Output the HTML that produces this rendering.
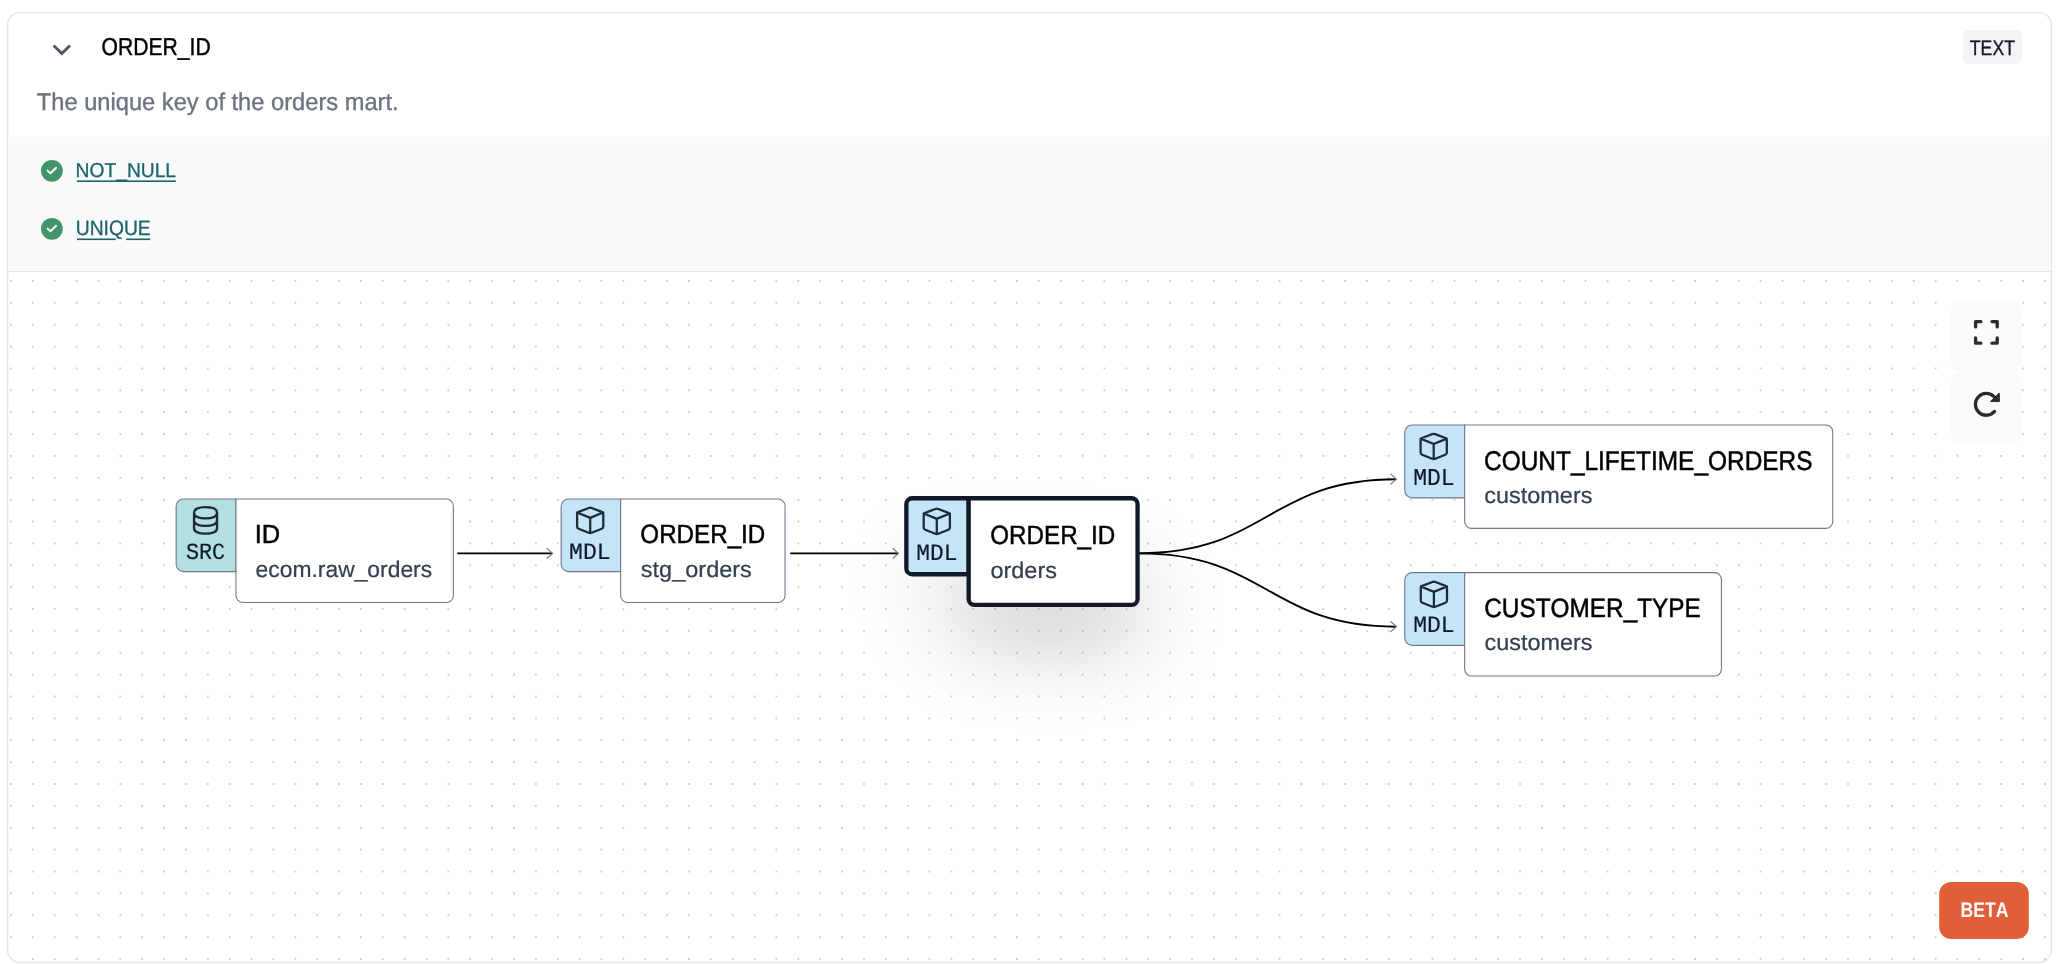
<!DOCTYPE html>
<html><head><meta charset="utf-8"><title>ORDER_ID lineage</title>
<style>html,body{margin:0;padding:0;background:#fff;width:2058px;height:964px;overflow:hidden;position:relative}
text{font-kerning:none;text-rendering:geometricPrecision}</style></head>
<body>
<svg width="2058" height="964" viewBox="0 0 2058 964" style="position:absolute;left:0;top:0;display:block;will-change:transform"><defs>
<pattern id="dots" patternUnits="userSpaceOnUse" x="10" y="280" width="21.87" height="21.87"><rect x="0" y="0" width="2" height="2" fill="#d3d3d3"/></pattern>
<clipPath id="cardclip"><rect x="8" y="13" width="2043" height="949" rx="12"/></clipPath>
<filter id="shadow" filterUnits="userSpaceOnUse" x="700" y="350" width="650" height="550"><feGaussianBlur stdDeviation="46"/></filter>
<marker id="arr" viewBox="0 0 12 12" refX="11" refY="6" markerWidth="12" markerHeight="12" markerUnits="userSpaceOnUse" orient="auto"><path d="M5.6 1 L11 6 L5.6 11" fill="none" stroke="#6b7280" stroke-width="1.15" stroke-linecap="round" stroke-linejoin="round"/></marker>
</defs>
<rect x="7.6" y="12.6" width="2043.8" height="949.8" rx="12.5" fill="#fff" stroke="#e3e5ea" stroke-width="1.4"/>
<g clip-path="url(#cardclip)">
<rect x="8" y="137" width="2043" height="134" fill="#f9fafb"/>
<rect x="8" y="272" width="2043" height="690" fill="url(#dots)"/>
<rect x="8" y="271" width="2043" height="1" fill="#e5e7eb"/>
</g>
<path d="M53.6 45.6 L61.8 53.6 L70.0 45.6" fill="none" stroke="#4b5563" stroke-width="2.8" stroke-linecap="butt" stroke-linejoin="miter"/>
<text x="101.6" y="55" font-family='"Liberation Sans", sans-serif' font-size="24.35" font-weight="400" fill="#000" textLength="109.11" lengthAdjust="spacingAndGlyphs" stroke="#000" stroke-width="0.45">ORDER_ID</text>
<text x="36.77" y="109.8" font-family='"Liberation Sans", sans-serif' font-size="24.2" font-weight="400" fill="#6b7280" textLength="361.89" lengthAdjust="spacingAndGlyphs" stroke="#6b7280" stroke-width="0.35">The unique key of the orders mart.</text>
<rect x="1963" y="30" width="59" height="34" rx="5" fill="#f3f4f6" stroke="none" stroke-width="0"/>
<text x="1969.8" y="55.2" font-family='"Liberation Sans", sans-serif' font-size="21.22" font-weight="400" fill="#111827" textLength="45.2" lengthAdjust="spacingAndGlyphs" stroke="#111827" stroke-width="0.35">TEXT</text>
<circle cx="51.9" cy="170.8" r="10.9" fill="#44946b"/>
<path d="M47.6 170.6 L50.5 173.3 L56.1 167.8" fill="none" stroke="#fff" stroke-width="1.9" stroke-linecap="round" stroke-linejoin="round"/>
<text x="75.62" y="176.8" font-family='"Liberation Sans", sans-serif' font-size="20.05" font-weight="400" fill="#1d6468" textLength="100.42" lengthAdjust="spacingAndGlyphs" stroke="#1d6468" stroke-width="0.3">NOT_NULL</text>
<rect x="77" y="180.4" width="98.9" height="1.6" fill="#1d6468"/>
<circle cx="51.9" cy="228.8" r="10.9" fill="#44946b"/>
<path d="M47.6 228.6 L50.5 231.3 L56.1 225.8" fill="none" stroke="#fff" stroke-width="1.9" stroke-linecap="round" stroke-linejoin="round"/>
<text x="75.71" y="234.9" font-family='"Liberation Sans", sans-serif' font-size="20.77" font-weight="400" fill="#1d6468" textLength="75.02" lengthAdjust="spacingAndGlyphs" stroke="#1d6468" stroke-width="0.3">UNIQUE</text>
<rect x="77" y="238.5" width="38.7" height="1.6" fill="#1d6468"/>
<rect x="126.1" y="238.5" width="24.1" height="1.6" fill="#1d6468"/>
<rect x="1950.4" y="300.2" width="71.3" height="71.9" rx="9" fill="#f9fafb" stroke="none" stroke-width="0" fill-opacity="0.88"/>
<rect x="1950.4" y="372.1" width="71.3" height="71.8" rx="9" fill="#f9fafb" stroke="none" stroke-width="0" fill-opacity="0.88"/>
<g transform="translate(1966 312)" fill="none" stroke="#2b2b2b" stroke-width="3.3" stroke-linecap="round" stroke-linejoin="round"><path d="M14.9 9.6 H9.6 V14.9"/><path d="M26 9.6 H31.2 V14.9"/><path d="M9.6 26 V31.2 H14.9"/><path d="M31.2 26 V31.2 H26"/></g>
<g transform="translate(1966 384)"><path d="M28.6 27.4 A10.9 10.9 0 1 1 28.0 12.6" fill="none" stroke="#2b2b2b" stroke-width="3.3" stroke-linecap="round"/><path d="M24.5 17.4 L33.2 9.1 L33.4 17.6 Z" fill="#2b2b2b" stroke="#2b2b2b" stroke-width="1" stroke-linejoin="round"/></g>
<rect x="1939.2" y="882.1" width="89.6" height="56.8" rx="12" fill="#e05e38" stroke="none" stroke-width="0"/>
<text x="1960.52" y="917.2" font-family='"Liberation Sans", sans-serif' font-size="21.08" font-weight="700" fill="#fff" textLength="47.94" lengthAdjust="spacingAndGlyphs">BETA</text>
<g fill="none" stroke="#000" stroke-width="1.85">
<path d="M457.3 553.3 H552.4" marker-end="url(#arr)"/>
<path d="M790.2 553.3 H898.3" marker-end="url(#arr)"/>
<path d="M1138.7 553.3 C1267.5 553.3 1267.5 479.2 1396.3 479.2" marker-end="url(#arr)"/>
<path d="M1138.7 553.3 C1267.5 553.3 1267.5 626.7 1396.3 626.7" marker-end="url(#arr)"/>
</g>
<g filter="url(#shadow)" opacity="0.25"><rect x="960" y="576" width="180" height="63" fill="#000"/><rect x="905" y="560" width="60" height="30" fill="#000" opacity="0.5"/></g>
<path d="M183.6 499.05 H235.95 V571.65 H183.6 C179.49 571.65 176.15 568.31 176.15 564.2 V506.5 C176.15 502.39 179.49 499.05 183.6 499.05 Z" fill="#b2dfe0" stroke="#717887" stroke-width="1.1"/>
<path d="M235.95 499.05 H446.4 C450.24 499.05 453.35 502.16 453.35 506 V595.5 C453.35 599.34 450.24 602.45 446.4 602.45 H242.9 C239.06 602.45 235.95 599.34 235.95 595.5 V499.05 Z" fill="#fff" stroke="#717887" stroke-width="1.1"/>
<path transform="translate(205.55 512.8)" d="M-11.5 0 C-11.5 -3.7 -7.59 -5.6 0 -5.6 C7.59 -5.6 11.5 -3.7 11.5 0 C11.5 3.7 7.59 5.6 0 5.6 C-7.59 5.6 -11.5 3.7 -11.5 0 Z M-11.5 7.5 C-11.5 11.2 -7.59 13.1 0 13.1 C7.59 13.1 11.5 11.2 11.5 7.5 M-11.5 15.2 C-11.5 18.9 -7.59 20.8 0 20.8 C7.59 20.8 11.5 18.9 11.5 15.2 M-11.5 0 V15.2 M11.5 0 V15.2" fill="none" stroke="#1f2937" stroke-width="2.35" stroke-linecap="round"/>
<text x="185.96" y="558.8" font-family='"Liberation Mono", monospace' font-size="23.17" font-weight="400" fill="#111827" textLength="39.16" lengthAdjust="spacingAndGlyphs" stroke="#111827" stroke-width="0.18">SRC</text>
<text x="254.75" y="543.1" font-family='"Liberation Sans", sans-serif' font-size="26.31" font-weight="400" fill="#000" textLength="25.47" lengthAdjust="spacingAndGlyphs" stroke="#000" stroke-width="0.5">ID</text>
<text x="255.63" y="576.8" font-family='"Liberation Sans", sans-serif' font-size="22.7" font-weight="400" fill="#334052" textLength="176.5" lengthAdjust="spacingAndGlyphs" stroke="#334052" stroke-width="0.22">ecom.raw_orders</text>
<path d="M568.6 499.05 H620.65 V571.65 H568.6 C564.49 571.65 561.15 568.31 561.15 564.2 V506.5 C561.15 502.39 564.49 499.05 568.6 499.05 Z" fill="#c4e4f7" stroke="#717887" stroke-width="1.1"/>
<path d="M620.65 499.05 H778.1 C781.94 499.05 785.05 502.16 785.05 506 V595.5 C785.05 599.34 781.94 602.45 778.1 602.45 H627.6 C623.76 602.45 620.65 599.34 620.65 595.5 V499.05 Z" fill="#fff" stroke="#717887" stroke-width="1.1"/>
<path transform="translate(577.1 506.5)" d="M11.61 1.48 Q13.1 0.9 14.59 1.48 L24.71 5.42 Q26.2 6 26.2 7.6 L26.2 20 Q26.2 21.6 24.71 22.19 L14.59 26.21 Q13.1 26.8 11.61 26.21 L1.49 22.19 Q0 21.6 0 20 L0 7.6 Q0 6 1.49 5.42 Z M0 6 L11.99 10.85 Q13.1 11.3 14.21 10.85 L26.2 6  M13.1 11.3 V26.2" fill="none" stroke="#1f2937" stroke-width="2.25" stroke-linejoin="round" stroke-linecap="round"/>
<text x="569.05" y="558.8" font-family='"Liberation Mono", monospace' font-size="23.53" font-weight="400" fill="#111827" textLength="41.5" lengthAdjust="spacingAndGlyphs" stroke="#111827" stroke-width="0.18">MDL</text>
<text x="640.36" y="543.3" font-family='"Liberation Sans", sans-serif' font-size="26.35" font-weight="400" fill="#000" textLength="124.9" lengthAdjust="spacingAndGlyphs" stroke="#000" stroke-width="0.5">ORDER_ID</text>
<text x="640.85" y="576.5" font-family='"Liberation Sans", sans-serif' font-size="22.7" font-weight="400" fill="#334052" textLength="111" lengthAdjust="spacingAndGlyphs" stroke="#334052" stroke-width="0.22">stg_orders</text>
<path d="M912.2 498.25 H968.65 V574.25 H912.2 C908.97 574.25 906.35 571.63 906.35 568.4 V504.1 C906.35 500.87 908.97 498.25 912.2 498.25 Z" fill="#c4e4f7" stroke="#111827" stroke-width="4.3"/>
<path d="M968.65 498.25 H1131.7 C1134.93 498.25 1137.55 500.87 1137.55 504.1 V599 C1137.55 602.23 1134.93 604.85 1131.7 604.85 H974.5 C971.27 604.85 968.65 602.23 968.65 599 V498.25 Z" fill="#fff" stroke="#111827" stroke-width="4.3"/>
<path transform="translate(923.7 507.5)" d="M11.61 1.48 Q13.1 0.9 14.59 1.48 L24.71 5.42 Q26.2 6 26.2 7.6 L26.2 20 Q26.2 21.6 24.71 22.19 L14.59 26.21 Q13.1 26.8 11.61 26.21 L1.49 22.19 Q0 21.6 0 20 L0 7.6 Q0 6 1.49 5.42 Z M0 6 L11.99 10.85 Q13.1 11.3 14.21 10.85 L26.2 6  M13.1 11.3 V26.2" fill="none" stroke="#1f2937" stroke-width="2.25" stroke-linejoin="round" stroke-linecap="round"/>
<text x="916.26" y="559.8" font-family='"Liberation Mono", monospace' font-size="23.53" font-weight="400" fill="#111827" textLength="41.18" lengthAdjust="spacingAndGlyphs" stroke="#111827" stroke-width="0.18">MDL</text>
<text x="990.25" y="543.9" font-family='"Liberation Sans", sans-serif' font-size="26.35" font-weight="400" fill="#000" textLength="125" lengthAdjust="spacingAndGlyphs" stroke="#000" stroke-width="0.5">ORDER_ID</text>
<text x="990.41" y="577.8" font-family='"Liberation Sans", sans-serif' font-size="22.7" font-weight="400" fill="#334052" textLength="66.53" lengthAdjust="spacingAndGlyphs" stroke="#334052" stroke-width="0.22">orders</text>
<path d="M1412.2 424.95 H1464.65 V497.85 H1412.2 C1408.09 497.85 1404.75 494.51 1404.75 490.4 V432.4 C1404.75 428.29 1408.09 424.95 1412.2 424.95 Z" fill="#c4e4f7" stroke="#717887" stroke-width="1.1"/>
<path d="M1464.65 424.95 H1825.8 C1829.64 424.95 1832.75 428.06 1832.75 431.9 V521.4 C1832.75 525.24 1829.64 528.35 1825.8 528.35 H1471.6 C1467.76 528.35 1464.65 525.24 1464.65 521.4 V424.95 Z" fill="#fff" stroke="#717887" stroke-width="1.1"/>
<path transform="translate(1420.6 432.6)" d="M11.61 1.48 Q13.1 0.9 14.59 1.48 L24.71 5.42 Q26.2 6 26.2 7.6 L26.2 20 Q26.2 21.6 24.71 22.19 L14.59 26.21 Q13.1 26.8 11.61 26.21 L1.49 22.19 Q0 21.6 0 20 L0 7.6 Q0 6 1.49 5.42 Z M0 6 L11.99 10.85 Q13.1 11.3 14.21 10.85 L26.2 6  M13.1 11.3 V26.2" fill="none" stroke="#1f2937" stroke-width="2.25" stroke-linejoin="round" stroke-linecap="round"/>
<text x="1413.14" y="485.1" font-family='"Liberation Mono", monospace' font-size="24.14" font-weight="400" fill="#111827" textLength="41.61" lengthAdjust="spacingAndGlyphs" stroke="#111827" stroke-width="0.18">MDL</text>
<text x="1484.06" y="470.3" font-family='"Liberation Sans", sans-serif' font-size="27.07" font-weight="400" fill="#000" textLength="328.46" lengthAdjust="spacingAndGlyphs" stroke="#000" stroke-width="0.5">COUNT_LIFETIME_ORDERS</text>
<text x="1484.3" y="502.6" font-family='"Liberation Sans", sans-serif' font-size="22.7" font-weight="400" fill="#334052" textLength="108.14" lengthAdjust="spacingAndGlyphs" stroke="#334052" stroke-width="0.22">customers</text>
<path d="M1412.2 572.65 H1464.65 V645.35 H1412.2 C1408.09 645.35 1404.75 642.01 1404.75 637.9 V580.1 C1404.75 575.99 1408.09 572.65 1412.2 572.65 Z" fill="#c4e4f7" stroke="#717887" stroke-width="1.1"/>
<path d="M1464.65 572.65 H1714.5 C1718.34 572.65 1721.45 575.76 1721.45 579.6 V669.1 C1721.45 672.94 1718.34 676.05 1714.5 676.05 H1471.6 C1467.76 676.05 1464.65 672.94 1464.65 669.1 V572.65 Z" fill="#fff" stroke="#717887" stroke-width="1.1"/>
<path transform="translate(1420.8 580.5)" d="M11.61 1.48 Q13.1 0.9 14.59 1.48 L24.71 5.42 Q26.2 6 26.2 7.6 L26.2 20 Q26.2 21.6 24.71 22.19 L14.59 26.21 Q13.1 26.8 11.61 26.21 L1.49 22.19 Q0 21.6 0 20 L0 7.6 Q0 6 1.49 5.42 Z M0 6 L11.99 10.85 Q13.1 11.3 14.21 10.85 L26.2 6  M13.1 11.3 V26.2" fill="none" stroke="#1f2937" stroke-width="2.25" stroke-linejoin="round" stroke-linecap="round"/>
<text x="1413.15" y="631.8" font-family='"Liberation Mono", monospace' font-size="23.53" font-weight="400" fill="#111827" textLength="41.5" lengthAdjust="spacingAndGlyphs" stroke="#111827" stroke-width="0.18">MDL</text>
<text x="1484.26" y="617.3" font-family='"Liberation Sans", sans-serif' font-size="26.5" font-weight="400" fill="#000" textLength="216.58" lengthAdjust="spacingAndGlyphs" stroke="#000" stroke-width="0.5">CUSTOMER_TYPE</text>
<text x="1484.51" y="650" font-family='"Liberation Sans", sans-serif' font-size="22.7" font-weight="400" fill="#334052" textLength="107.94" lengthAdjust="spacingAndGlyphs" stroke="#334052" stroke-width="0.22">customers</text></svg>
</body></html>
